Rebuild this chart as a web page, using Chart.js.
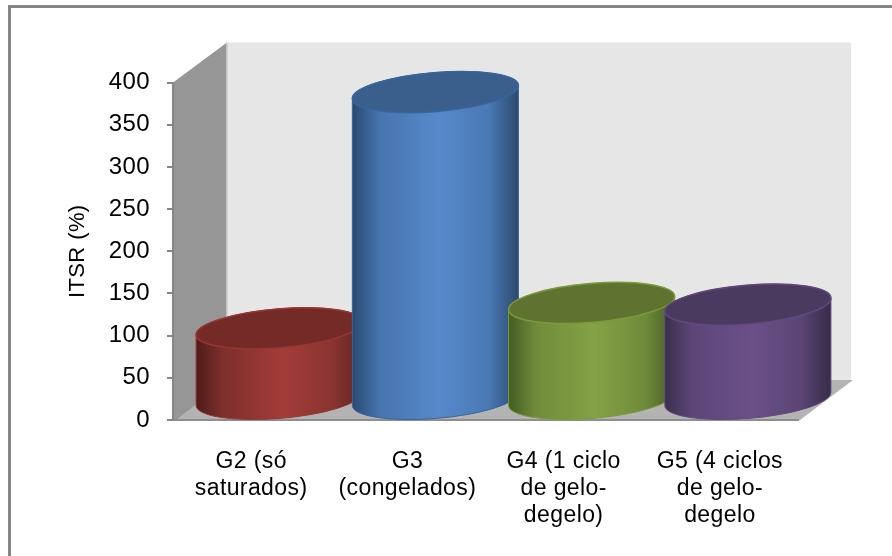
<!DOCTYPE html>
<html>
<head>
<meta charset="utf-8">
<script src="https://cdn.jsdelivr.net/npm/chart.js@4/dist/chart.umd.min.js"></script>
<style>
body { margin: 0; background: #fff; }
#frame { position: absolute; left: 8px; top: 5px; right: 0; bottom: 0; border-left: 3px solid #868686; border-top: 3px solid #868686; }
canvas { position: absolute; left: 0; top: 0; }
</style>
</head>
<body>
<div id="frame"></div>
<canvas id="myChart" width="892" height="556"></canvas>
<script>
let categories = [['G2 (só', 'saturados)'], ['G3', '(congelados)'], ['G4 (1 ciclo', 'de gelo-', 'degelo)'], ['G5 (4 ciclos', 'de gelo-', 'degelo']];
let itsrValues = [85, 365, 115, 113];
let yTicks = [0, 50, 100, 150, 200, 250, 300, 350, 400];

// side color stops left to right, then cap and rim
let sideColors = [
	['#4e1b19', '#7d2f2c', '#a33c39', '#8a3431', '#5f2321'],
	['#2b4a72', '#4674ad', '#5789cb', '#4a79b4', '#2d4a70'],
	['#435c24', '#6f8b3a', '#84a246', '#6f8b3a', '#475c26'],
	['#3b2e4c', '#5b4676', '#6b5088', '#5a4574', '#382c48']
];
let capColors = ['#742a27', '#3a5f8d', '#5f7230', '#4b3a60'];
let rimColors = ['#953735', '#37659c', '#7b9a3a', '#5f4a7d'];

let depthX = 54;
let depthY = 40;

let cylinders = {
	id: 'cylinders',
	beforeDraw(chart) {
		let ctx = chart.ctx;
		let a = chart.chartArea;
		ctx.letterSpacing = '0.4px';
		// back wall
		ctx.fillStyle = '#e6e6e6';
		ctx.fillRect(a.left + depthX, a.top - depthY, a.right - a.left - 1, a.bottom - a.top);
		// floor
		ctx.fillStyle = '#b3b3b3';
		ctx.beginPath();
		ctx.moveTo(a.left, a.bottom);
		ctx.lineTo(a.left + depthX, a.bottom - depthY);
		ctx.lineTo(a.right + depthX + 1, a.bottom - depthY);
		ctx.lineTo(a.right + 2, a.bottom);
		ctx.closePath();
		ctx.fill();
		// side wall
		ctx.fillStyle = '#969696';
		ctx.beginPath();
		ctx.moveTo(a.left, a.top);
		ctx.lineTo(a.left + depthX, a.top - depthY);
		ctx.lineTo(a.left + depthX, a.bottom - depthY);
		ctx.lineTo(a.left + 3, a.bottom);
		ctx.lineTo(a.left, a.bottom);
		ctx.closePath();
		ctx.fill();
		ctx.fillStyle = '#c4c4c4';
		ctx.fillRect(a.left + depthX - 1, a.top - depthY, 1.5, a.bottom - a.top);
	},
	beforeDatasetDraw() {
		return false;
	},
	afterDatasetsDraw(chart) {
		let ctx = chart.ctx;
		chart.getDatasetMeta(0).data.forEach(function (bar, i) {
			let cx = bar.x + depthX / 2 + 1;
			let topY = bar.y - depthY / 2;
			let baseY = bar.base - depthY / 2;
			let halfW = bar.width / 2;
			let rx = halfW * 1.004;
			let ry = halfW * 0.234;
			let tilt = -4.74 * Math.PI / 180;
			let t0 = Math.atan(-(ry / rx) * Math.tan(tilt));

			let grad = ctx.createLinearGradient(cx - halfW, 0, cx + halfW, 0);
			let stops = [0, 0.16, 0.52, 0.82, 1];
			stops.forEach(function (s, k) {
				grad.addColorStop(s, sideColors[i][k]);
			});

			ctx.save();
			ctx.beginPath();
			ctx.ellipse(cx, baseY, rx, ry, tilt, t0, t0 + Math.PI, false);
			ctx.ellipse(cx, topY, rx, ry, tilt, t0 + Math.PI, t0 + 2 * Math.PI, false);
			ctx.closePath();
			ctx.fillStyle = grad;
			ctx.fill();
			ctx.strokeStyle = rimColors[i];
			ctx.lineWidth = 1;
			ctx.stroke();

			ctx.beginPath();
			ctx.ellipse(cx, topY, rx, ry, tilt, 0, 2 * Math.PI);
			ctx.fillStyle = capColors[i];
			ctx.fill();
			ctx.strokeStyle = rimColors[i];
			ctx.lineWidth = 1.5;
			ctx.stroke();
			ctx.restore();
		});
	}
};

let myChart = document.getElementById('myChart').getContext('2d');

let chart = new Chart(myChart, {
	type: 'bar',
	data: {
		labels: categories,
		datasets: [{
			label: 'ITSR (%)',
			data: itsrValues,
			backgroundColor: capColors,
			categoryPercentage: 1,
			barPercentage: 1.062
		}]
	},
	options: {
		responsive: false,
		animation: false,
		layout: {
			padding: { left: 65, right: 94, top: 82.5, bottom: 0 }
		},
		plugins: {
			legend: { display: false },
			tooltip: { enabled: false }
		},
		scales: {
			x: {
				grid: { display: false },
				border: { color: '#8e8e8e', width: 2 },
				ticks: {
					color: '#000',
					maxRotation: 0,
					autoSkip: false,
					padding: 20,
					font: { family: 'Liberation Sans', size: 23, lineHeight: 1.174 }
				},
				afterFit(scale) {
					scale.height = 136;
				}
			},
			y: {
				min: 0,
				max: 400,
				afterBuildTicks(scale) {
					scale.ticks = yTicks.map(function (v) { return { value: v }; });
				},
				grid: { drawOnChartArea: false, color: '#868686', lineWidth: 2, tickLength: 6 },
				border: { color: '#868686', width: 2 },
				ticks: {
					color: '#000',
					padding: 17,
					font: { family: 'Liberation Sans', size: 24 }
				},
				title: {
					display: true,
					text: 'ITSR (%)',
					color: '#000',
					padding: 0,
					font: { family: 'Liberation Sans', size: 22 }
				},
				afterFit(scale) {
					scale.width = 108;
				}
			}
		}
	},
	plugins: [cylinders]
});
</script>
</body>
</html>
